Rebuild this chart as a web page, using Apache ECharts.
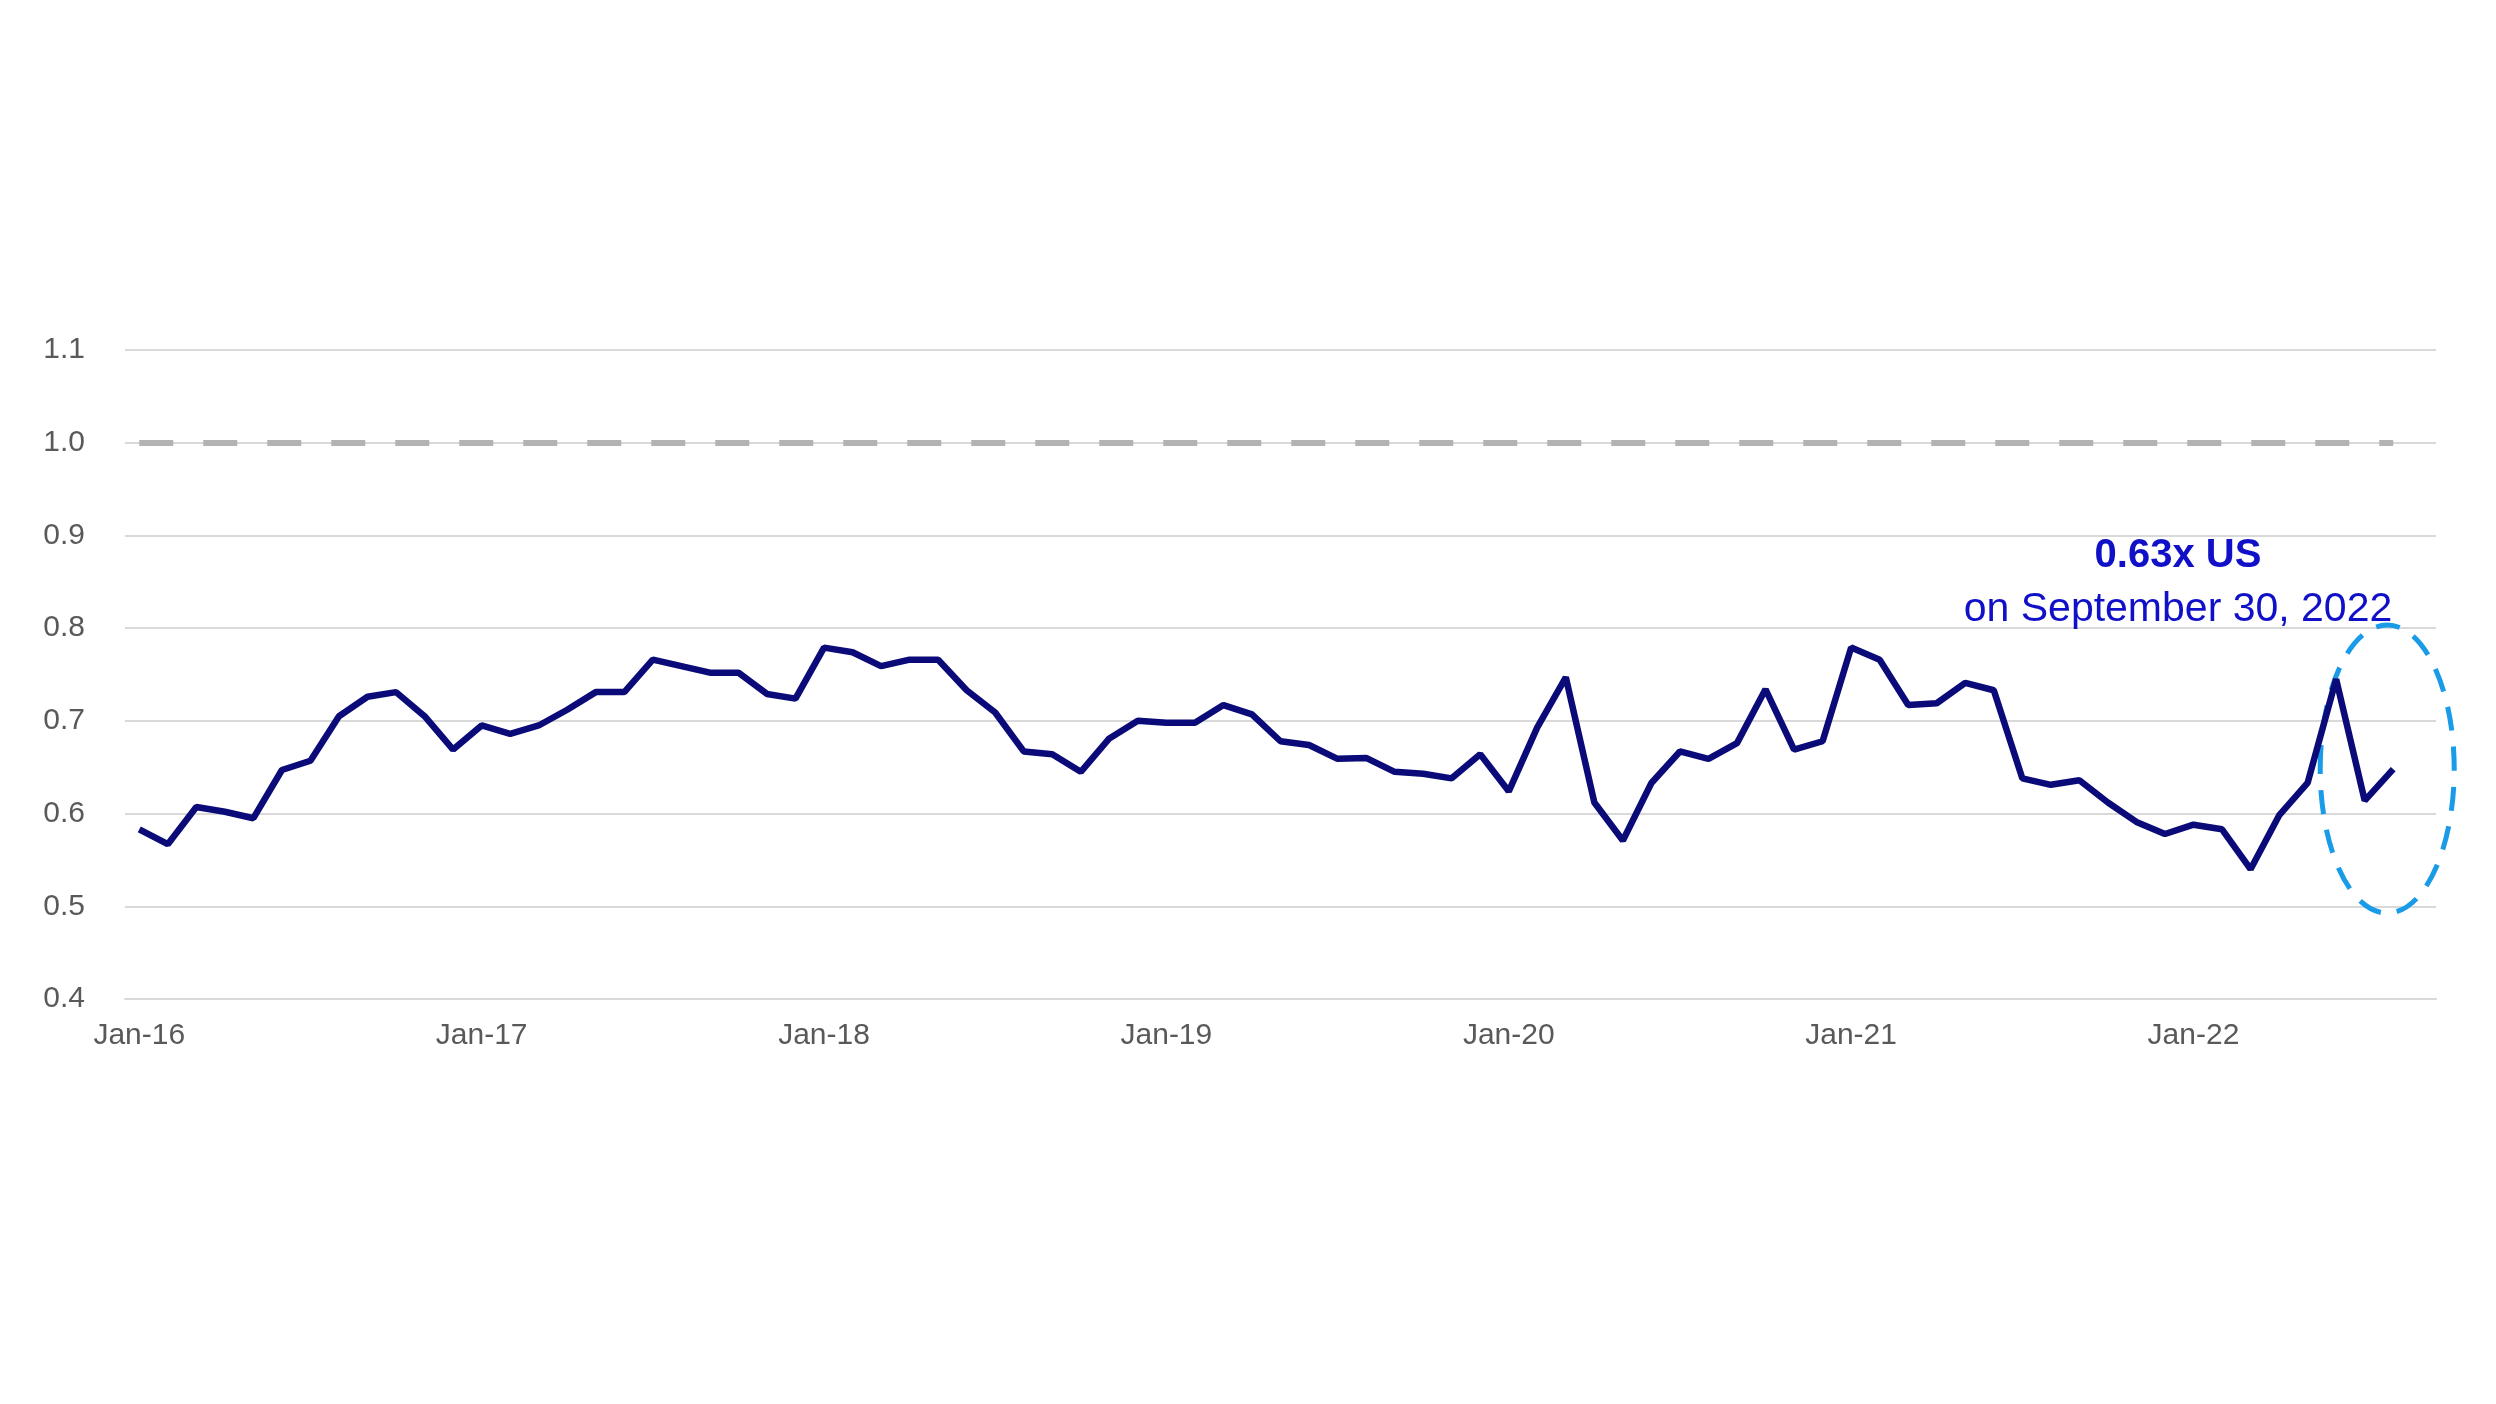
<!DOCTYPE html>
<html><head><meta charset="utf-8">
<script src="https://cdn.jsdelivr.net/npm/echarts@6/dist/echarts.min.js"></script>
<style>html,body{margin:0;padding:0;background:#fff}#c{width:2496px;height:1404px}</style>
</head><body><div id="c"></div>
<script>
const months = ['Jan','Feb','Mar','Apr','May','Jun','Jul','Aug','Sep','Oct','Nov','Dec'];
const categories = [];
for (let y = 16; y <= 22; y++) for (let m = 0; m < 12; m++) { if (y === 22 && m > 8) break; categories.push(months[m] + '-' + y); }
const values = [
0.583,0.567,0.607,0.602,0.595,0.647,0.657,0.705,0.726,0.731,0.705,0.669,
0.695,0.686,0.695,0.712,0.731,0.731,0.766,0.759,0.752,0.752,0.729,0.724,
0.779,0.774,0.759,0.766,0.766,0.733,0.709,0.667,0.664,0.645,0.681,0.700,
0.698,0.698,0.717,0.707,0.678,0.674,0.659,0.660,0.645,0.643,0.638,0.664,
0.624,0.693,0.747,0.612,0.571,0.633,0.667,0.659,0.676,0.734,0.669,0.678,
0.779,0.766,0.717,0.719,0.741,0.733,0.638,0.631,0.636,0.612,0.591,0.578,
0.588,0.583,0.540,0.598,0.633,0.745,0.614,0.648,null];
const parity = 1.0;
const annoTitle = '0.63x US';
const annoSub = 'on September 30, 2022';
const chart = echarts.init(document.getElementById('c'));
const labelStyle = {color:'#595959', fontSize:30, fontFamily:'Liberation Sans, Arial, sans-serif'};
chart.setOption({
  animation:false,
  grid:{left:125,right:60,top:350,bottom:405},
  xAxis:{type:'category',data:categories,boundaryGap:true,
    axisLine:{lineStyle:{color:'#d9d9d9',width:2}},axisTick:{show:false},
    axisLabel:Object.assign({interval:(i)=>i%12===0,margin:22},labelStyle),
    splitLine:{show:false}},
  yAxis:{type:'value',min:0.4,max:1.1,interval:0.1,
    axisLabel:Object.assign({formatter:v=>v.toFixed(1),margin:40},labelStyle),
    axisLine:{show:false},axisTick:{show:false},
    splitLine:{lineStyle:{color:'#d9d9d9',width:2}}},
  series:[{type:'line',data:values,symbol:'none',
    lineStyle:{color:'#0a0a78',width:6.5},
    markLine:{symbol:'none',silent:true,label:{show:false},
      lineStyle:{color:'#b3b3b3',type:[34,30],width:6},
      data:[[{coord:[0,parity]},{coord:[79,parity]}]]}}]
});
const c = chart.convertToPixel({xAxisIndex:0,yAxisIndex:0},[79,0.648]);
chart.setOption({graphic:[
  {type:'ellipse',shape:{cx:c[0]-6,cy:c[1],rx:67,ry:144},
   style:{fill:'none',stroke:'#1a9be8',lineWidth:5,lineDash:[24,16]}},
  {type:'text',x:2178,y:556,style:{text:annoTitle,fill:'#1010c8',font:'bold 40px Liberation Sans, Arial, sans-serif',align:'center',verticalAlign:'middle'}},
  {type:'text',x:2178,y:610,style:{text:annoSub,fill:'#1010c8',font:'41px Liberation Sans, Arial, sans-serif',align:'center',verticalAlign:'middle'}}
]});
</script></body></html>
